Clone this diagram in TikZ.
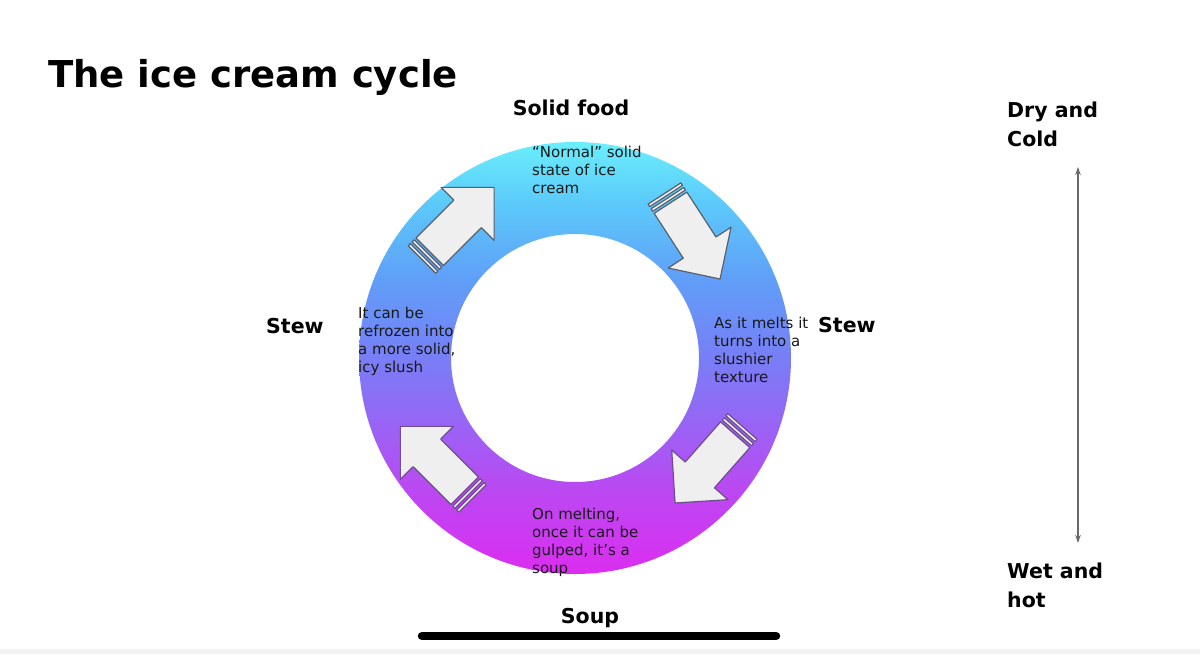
\documentclass[tikz,border=0pt]{standalone}
\usepackage{fontspec}
\setmainfont{DejaVu Sans}
\usetikzlibrary{arrows.meta}
\definecolor{arrfill}{RGB}{239,239,239}
\definecolor{edgetop}{RGB}{88,96,110}
\definecolor{edgebot}{RGB}{110,78,140}
\definecolor{axisgray}{RGB}{105,105,105}
\definecolor{sA}{RGB}{220,45,240}
\definecolor{sB}{RGB}{190,70,242}
\definecolor{sC}{RGB}{150,102,245}
\definecolor{sD}{RGB}{120,126,246}
\definecolor{sE}{RGB}{96,158,248}
\definecolor{sF}{RGB}{92,202,250}
\definecolor{sG}{RGB}{106,238,252}
\pgfdeclareverticalshading{ringshade}{100bp}{%
  color(0bp)=(sA);
  color(25bp)=(sA);
  color(34bp)=(sB);
  color(43bp)=(sC);
  color(50bp)=(sD);
  color(59bp)=(sE);
  color(68bp)=(sF);
  color(75bp)=(sG);
  color(100bp)=(sG)}
\tikzset{
  hdr/.style={font=\fontsize{20.5}{29}\selectfont\bfseries, inner sep=0pt, align=left},
  body/.style={font=\fontsize{15}{18}\selectfont, inner sep=0pt, align=left, text=black!90},
  arrpart/.style={fill=arrfill, line width=1.2pt, line join=round},
}
\newcommand{\stripearrow}[3]{%
  \begin{scope}[shift={#1}, rotate=#2]
    \filldraw[arrpart, draw=#3] (0,-19.5) rectangle (3,19.5);
    \filldraw[arrpart, draw=#3] (5.5,-19.5) rectangle (8.5,19.5);
    \filldraw[arrpart, draw=#3] (11,-19.5) -- (64.5,-19.5) -- (64.5,-37.5) -- (102,0)
      -- (64.5,37.5) -- (64.5,19.5) -- (11,19.5) -- cycle;
  \end{scope}}
\begin{document}
\begin{tikzpicture}[x=1pt,y=1pt]
\useasboundingbox (0,0) rectangle (1200,654);
\fill[white] (0,0) rectangle (1200,654);
\fill[black!5] (0,0) rectangle (1200,5);

% ring
\shade[shading=ringshade, even odd rule]
  (575,296) circle[radius=216] (575,296) circle[radius=124];

% block arrows
\stripearrow{(422,394.5)}{45}{edgetop}
\stripearrow{(664.5,460.5)}{-57}{edgetop}
\stripearrow{(742.5,227.5)}{-131.4}{edgebot}
\stripearrow{(472.5,155.5)}{135}{edgebot}

% title
\node[anchor=base west, inner sep=0pt, font=\fontsize{37}{44}\selectfont\bfseries] (title) at (48,566) {The ice cream cycle};

% headers
\node[hdr, anchor=base] (solid) at (571,538) {Solid food};
\node[hdr, anchor=base west] (stewl) at (266,320) {Stew};
\node[hdr, anchor=base west] (stewr) at (818,321) {Stew};
\node[hdr, anchor=base] (soup) at (590,31) {Soup};
\node[hdr, anchor=base west] (dry) at (1007,507) {Dry and\\Cold};
\node[hdr, anchor=base west] (wet) at (1007,47) {Wet and\\hot};

% body texts
\node[body, anchor=base west] (t1) at (532,460.4) {“Normal” solid\\state of ice\\cream};
\node[body, anchor=base west] (t2) at (358,281.4) {It can be\\refrozen into\\a more solid,\\icy slush};
\node[body, anchor=base west] (t3) at (714,271.4) {As it melts it\\turns into a\\slushier\\texture};
\node[body, anchor=base west] (t4) at (532,80.4) {On melting,\\once it can be\\gulped, it’s a\\soup};

% vertical scale arrow
\coordinate (ytop) at (1078,487);
\coordinate (ybot) at (1078,111);
\draw[axisgray, line width=1.2pt, {Stealth[length=8pt,width=5.5pt]}-{Stealth[length=8pt,width=5.5pt]}] (ybot) -- (ytop);

% home indicator bar
\coordinate (barl) at (422,18);
\coordinate (barr) at (776,18);
\draw[black, line width=8.5pt, line cap=round] (barl) -- (barr);
\end{tikzpicture}
\end{document}
